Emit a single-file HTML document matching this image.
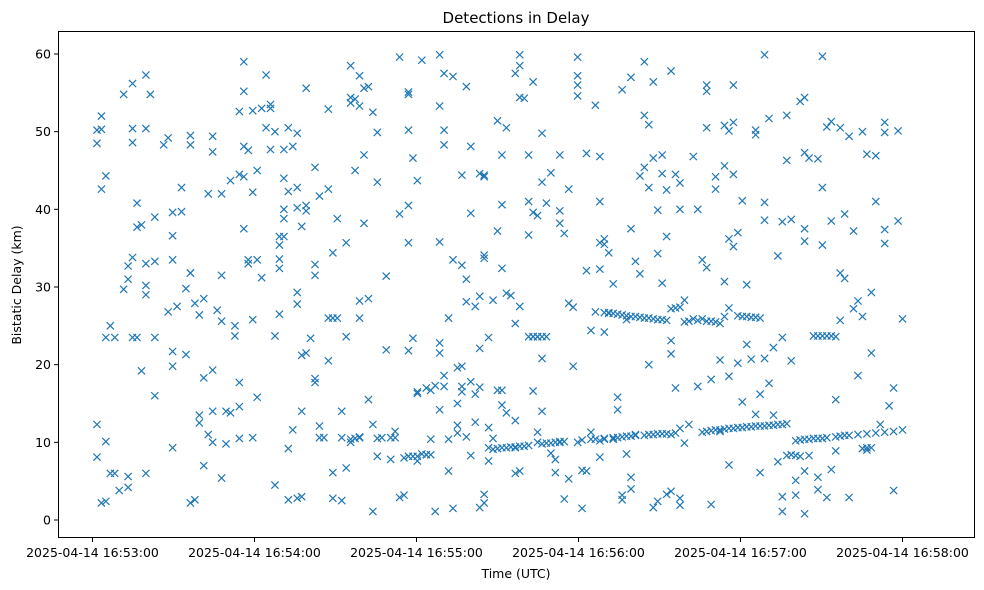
<!DOCTYPE html>
<html><head><meta charset="utf-8"><style>
body{margin:0;background:#fff;}
svg{display:block;font-family:"DejaVu Sans","Liberation Sans",sans-serif;}
</style></head><body>
<svg id="chart" width="984" height="590" viewBox="0 0 984 590">
<rect width="984" height="590" fill="#fff"/>
<text x="516" y="23" font-size="15" text-anchor="middle" fill="#000">Detections in Delay</text>
<text x="516" y="578" font-size="12.5" text-anchor="middle" fill="#000">Time (UTC)</text>
<text x="0" y="0" font-size="12.5" text-anchor="middle" fill="#000" transform="translate(21,285) rotate(-90)">Bistatic Delay (km)</text>
<g id="ticks"></g>
<g id="marks"></g>
<rect x="58.5" y="31.5" width="916" height="506" fill="none" stroke="#000" stroke-width="1"/>
</svg>
<script>
const yTicks=[0,10,20,30,40,50,60];
const xTickSeconds=[0,60,120,180,240,300];
const xTickLabels=["2025-04-14 16:53:00","2025-04-14 16:54:00","2025-04-14 16:55:00","2025-04-14 16:56:00","2025-04-14 16:57:00","2025-04-14 16:58:00"];
// obs: [time index (0..182 spans 0..300 s after 16:53:00), delays in km]
const obs=[
[1,[12.3,8.1,48.5,50.2]],[2,[52,50.3,42.6,2.2]],[3,[10.1,2.4,23.5,44.3]],[4,[6,25]],[5,[6,23.5]],[6,[3.8]],[7,[29.7,54.8]],
[8,[32.7,4.2,5.6,31]],[9,[33.8,50.4,56.2,48.6,23.5]],[10,[37.7,40.8,23.5]],[11,[38,19.2]],[12,[33,30.2,29,6,57.3,50.4]],
[13,[54.8]],[14,[39,16,23.5,33.3]],[16,[48.3]],[17,[49.2,26.8]],[18,[19.8,21.7,33.5,36.6,39.6,9.3]],[19,[27.5]],
[20,[39.7,42.8]],[21,[21.3,29.8]],[22,[49.5,48.3,31.8,31.8,2.2]],[23,[27.9,2.6]],[24,[12.5,13.5,26.4]],[25,[28.5,18.3,7]],
[26,[42,11]],[27,[47.4,49.4,19.3,14,10]],[28,[27]],[29,[25.6,31.5,42,5.4]],[30,[9.8,14]],[31,[43.7,13.8]],[32,[23.7,25]],
[33,[14.6,44.5,17.7,10.5,52.6]],[34,[59,37.5,44.2,48.1,55.2]],[35,[47.6,33,33.5]],[36,[42.2,25.8,52.7,10.6]],[37,[15.8,45,33.5]],
[38,[53,31.2]],[39,[57.3,50.5]],[40,[53.5,53,47.7]],[41,[23.7,4.5,50]],[42,[32.4,33.6,35.4,36.5,26.5]],[43,[47.7,44,40,38.8,36.5]],
[44,[50.5,42.3,2.6,9.2]],[45,[48.1,11.6]],[46,[40.2,29.3,27.8,2.8,49.8,42.8]],[47,[37.8,21.2,14,3]],[48,[39.8,40.5,21.5,55.6]],
[49,[23.4]],[50,[17.7,18.2,31.5,32.9,45.4]],[51,[12.1,10.6,41.7]],[52,[10.6]],[53,[42.6,52.9,26,20.5]],[54,[6.1,2.8,26,34.4]],
[55,[38.8,26]],[56,[14,10.6,2.5]],[57,[23.6,35.7,6.7]],[58,[58.5,54.4,53.7,10.4,10]],[59,[54.2,45,10.5]],[60,[53.3,57.2,28.2,10.6,10.7,26]],
[61,[47,38.2,55.6]],[62,[55.8,28.5,15.5]],[63,[52.5,1.1,12.3]],[64,[43.5,49.9,8.2,10.5]],[65,[10.6]],[66,[31.4,21.9]],[67,[10.6,7.8]],
[68,[11.4,10.6]],[69,[59.6,39.4,2.9]],[70,[3.2,8]],[71,[40.5,35.7,50.2,54.8,55.1,8.2,21.8]],[72,[46.6,8.2,23.4]],
[73,[43.7,16.5,7.6,8.2,16.3]],[74,[59.2,8.5]],[75,[17,8.4,8.4]],[76,[16.7,10.4,8.4]],[77,[17.3,1.1]],[78,[53.3,59.9,35.8,21.5,22.8,14.2]],
[79,[57.5,50.2,48.3,18.6,17.2]],[80,[10.4,6.3,26]],[81,[57.1,33.5,1.5]],[82,[15,19.6,12.2,11.2]],[83,[44.4,32.8,19.8,17.2,16.5]],
[84,[55.8,31,28.1,10.7]],[85,[48.1,39.5,17.8,8.3]],[86,[27.5,16.2,12.6]],[87,[44.6,28.8,22.1,17.1,1.6]],[88,[44.4,44.2,34.1,33.7,2.2,3.3]],
[89,[23.5,11.9,9.3,7.6]],[90,[28.3,10.5,9.1]],[91,[37.2,51.4,16.7,9.2]],[92,[47,40.6,32.4,14.8,16.7,9.3]],[93,[50.5,29.2,13.8,9.3]],
[94,[28.9,9.4]],[95,[57.5,25.3,9.3,6,12.8,9.4]],[96,[54.4,59.9,58.5,27.5,6.3,9.5]],[97,[54.3,9.5]],[98,[47,41,36.7,9.6,23.6]],
[99,[23.6,39.6,56.4,16.6,23.6]],[100,[39.2,23.6,11.3,10,23.6]],[101,[49.8,43.5,14,20.8,9.8,23.6]],[102,[40.8,23.6,9.9]],[103,[44.7,8.6,9.9]],
[104,[6.1,7.8,10]],[105,[47,39.8,38.2,10,10.1]],[106,[36.9,2.7,10.1]],[107,[42.6,27.9,5.3]],[108,[19.8,27.4]],[109,[54.6,59.6,57.2,56,10]],
[110,[1.5,6.4,10.3]],[111,[47.2,6.3,32.1]],[112,[24.4,11.3,10.4]],[113,[53.4,26.8,10.4]],[114,[46.8,41,35.7,32.3,8.1,10.2]],
[115,[36.2,35.5,24.2,10.4,10.5,26.7]],[116,[34.4,26.7,26.6]],[117,[30.4,10.4,10.6,26.6]],[118,[15.8,14.2,10.6,26.5]],[119,[55.4,3.2,2.6,10.7,26.4]],
[120,[25.8,8.5,10.8,26.3]],[121,[37.5,57,4,5.5,10.8,26.2]],[122,[33.3,11,10.9,26.2]],[123,[44.3,31.7,26.1]],[124,[59,52.1,45.4,10.9,26]],
[125,[50.9,42.8,20,11,26]],[126,[56.4,46.6,1.6,11,25.9]],[127,[39.9,34.3,11.1,2.4,25.8]],[128,[47,44.6,30.5,11.1,25.8]],[129,[42.5,36.5,3.3,11.1,25.7]],
[130,[57.8,23.1,21.4,3.7,11,27.2]],[131,[44.5,17,11.2,27.3]],[132,[40,43.4,1.9,2.8,11.8,27.4]],[133,[28.3,9.9,25.5]],[134,[12.3,25.6]],
[135,[46.8,25.9]],[136,[40,17.2,25.7]],[137,[33.5,11.3,25.9]],[138,[56,55.2,50.5,32.5,11.4,25.6]],[139,[2,18.1,11.5,25.6]],
[140,[44.2,42.6,11.6,25.5]],[141,[20.6,11.4,11.6,25.3]],[142,[50.8,45.6,30.7,26.2,11.7]],[143,[50.1,36.2,18.5,27.3,7.1,11.8]],
[144,[51.2,56,44.5,35.2,11.8]],[145,[37,20.2,11.9,26.3]],[146,[41.1,15.2,11.9,26.2]],[147,[30.3,22.6,12,26.2]],[148,[20.7,12,26.1]],
[149,[50.2,49.6,13.6,12.1,26.1]],[150,[6.1,16.2,12.1,26]],[151,[59.9,40.9,38.6,20.8,12.1]],[152,[51.7,17.6,12.2]],[153,[13.5,22.2,12.2]],
[154,[7.5,34,12.3]],[155,[23.5,38.4,1.1,3,12.3]],[156,[46.3,52.1,12.4,8.3]],[157,[38.7,20.5,8.4]],[158,[5.1,3.2,10.2,8.3]],
[159,[53.9,10.3,8.2]],[160,[37.5,54.4,47.3,35.9,0.8,6.3,10.4]],[161,[46.6,10.4,8.3]],[162,[23.7,10.5]],[163,[46.5,3.9,5.5,10.5,23.7]],
[164,[59.7,42.8,35.4,10.5,23.7]],[165,[50.6,2.9,10.6,23.7]],[166,[51.3,38.5,6.5,23.7]],[167,[15.5,8.9,10.7,23.6]],[168,[50.5,25.7,31.8,10.8]],
[169,[39.4,31.1,10.9]],[170,[49.4,2.9,10.9]],[171,[37.2,27.2]],[172,[18.6,28.2,11]],[173,[50,26.2,9.2]],[174,[47.1,9,11.1,9.3]],
[175,[29.3,21.5,9.3]],[176,[41,46.9,11.2]],[177,[12.3]],[178,[35.6,37.4,51.2,49.9,11.3]],[179,[14.7]],[180,[3.8,17,11.4]],
[181,[50.1,38.5]],[182,[25.9,11.6]]
];
const SEC_PER_INDEX=300/182;
const X0=92.5,X1=902.5,Y0=520,Y60=54;
function xScale(s){return X0+(X1-X0)*s/300;}
function yScale(d){return Y0+(Y60-Y0)*d/60;}
const NS="http://www.w3.org/2000/svg";
const tg=document.getElementById('ticks'),mg=document.getElementById('marks');
yTicks.forEach(v=>{
 const y=yScale(v);
 const l=document.createElementNS(NS,'line');
 l.setAttribute('x1',54);l.setAttribute('x2',58.5);l.setAttribute('y1',y);l.setAttribute('y2',y);l.setAttribute('stroke','#000');
 
 
 tg.appendChild(l);
 const t=document.createElementNS(NS,'text');
 t.setAttribute('x',51);t.setAttribute('y',y+4.5);t.setAttribute('font-size','12.5');t.setAttribute('text-anchor','end');
 t.textContent=v;
 
 
 tg.appendChild(t);
});
xTickSeconds.forEach((s,i)=>{
 const x=xScale(s);
 const l=document.createElementNS(NS,'line');
 l.setAttribute('x1',x);l.setAttribute('x2',x);l.setAttribute('y1',537.5);l.setAttribute('y2',542);l.setAttribute('stroke','#000');
 
 
 tg.appendChild(l);
 const t=document.createElementNS(NS,'text');
 t.setAttribute('x',x);t.setAttribute('y',557);t.setAttribute('font-size','12.5');t.setAttribute('text-anchor','middle');
 t.textContent=xTickLabels[i];
 
 
 tg.appendChild(t);
});
obs.forEach(([idx,ds])=>{
 const s=idx*SEC_PER_INDEX;
 ds.forEach(d=>{
  const x=xScale(s),y=yScale(d),r=3.6;
  const p=document.createElementNS(NS,'path');
  p.setAttribute('d',`M${x-r},${y-r}L${x+r},${y+r}M${x-r},${y+r}L${x+r},${y-r}`);
  p.setAttribute('stroke','#1f77b4');p.setAttribute('stroke-width','1.2');p.setAttribute('fill','none');
  
  
  mg.appendChild(p);
 });
});
</script>
</body></html>
